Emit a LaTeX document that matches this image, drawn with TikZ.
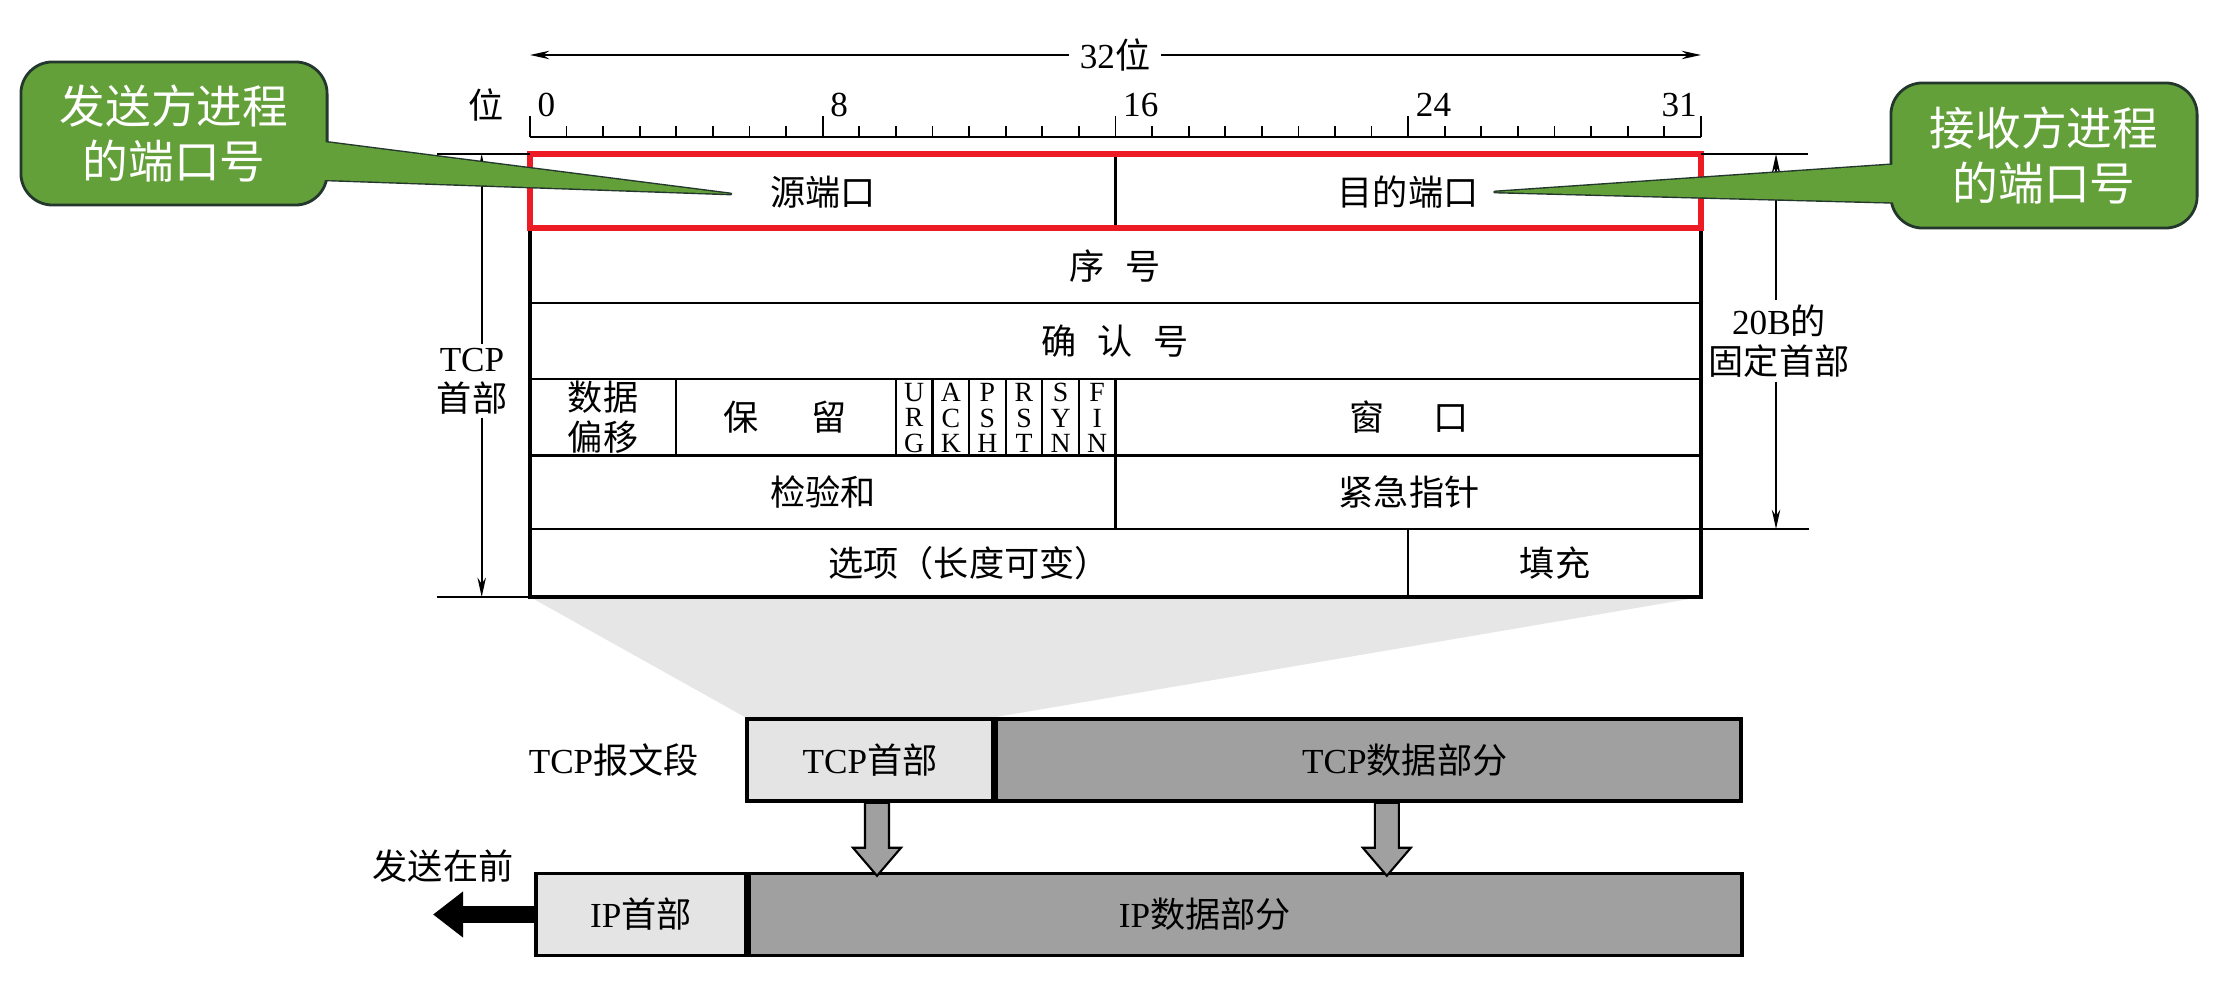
\documentclass[tikz,border=0pt]{standalone}
\usepackage{fontspec}
\setmainfont{Liberation Serif}
\newfontfamily\cjk{Noto Sans CJK SC}
\usetikzlibrary{arrows.meta, positioning, calc, backgrounds}
\definecolor{callGreen}{RGB}{100,160,58}
\definecolor{callEdge}{RGB}{35,55,45}
\definecolor{markRed}{RGB}{237,28,36}
\definecolor{hdrGray}{RGB}{228,228,228}
\definecolor{dataGray}{RGB}{160,160,160}
\definecolor{zoomGray}{RGB}{230,230,230}

\begin{document}
\begin{tikzpicture}[x=0.01cm, y=-0.01cm,
  every node/.style={font=\fontsize{10}{11.5}\selectfont, inner sep=1pt},
  brk/.style={-{Stealth[length=5.5pt,width=2.4pt]}, line width=0.5pt},
  cell/.style={line width=0.6pt},
  flagtxt/.style={align=center, font=\fontsize{7.9}{7.3}\selectfont},
  callbox/.style={fill=callGreen, draw=callEdge, line width=0.8pt, rounded corners=9pt,
    minimum width=3.06cm, align=center, text=white, font=\cjk\fontsize{13}{15.6}\selectfont},
  tail/.style={fill=callGreen, draw=callEdge, line width=0.8pt, line join=round},
  segbox/.style={draw, line width=1pt, minimum height=0.82cm, inner sep=0pt},
  downarr/.style={fill=dataGray, draw, line width=0.6pt}]
  \useasboundingbox (0,0) rectangle (2231,983);

  % ruler
  \draw[line width=0.6pt] (530,137) -- (1701,137);
  \foreach \b in {0,...,32} \draw[line width=0.5pt] (530+\b*36.59,137) -- ++(0,-11);
  \foreach \b in {0,8,...,32} \draw[line width=0.5pt] (530+\b*36.59,137) -- ++(0,-21);
  \foreach \b in {0,8,16,24}
    \node[anchor=base west, inner sep=2pt] (bit\b) at (530+\b*36.59,117) {\b};
  \node[anchor=base east] (bit31) at (1701,117) {31};
  \node (wei) at (486,105) {\cjk 位};
  \node[fill=white, inner sep=3pt] (width) at (1115,55) {32\cjk 位};
  \coordinate (wl) at (530,55);
  \coordinate (wr) at (1701,55);
  \draw[brk] (width) -- (wl);
  \draw[brk] (width) -- (wr);

  % header table
  \draw[line width=0.9pt] (530,154) rectangle (1701,597);
  \foreach \y in {228,303,379,455.5,529} \draw[cell] (530,\y) -- (1701,\y);
  \draw[cell] (1115.5,154) -- (1115.5,228);
  \foreach \b in {4,10,11,12,13,14,15,16} \draw[cell] (530+\b*36.59,379) -- (530+\b*36.59,455.5);
  \draw[cell] (1115.5,455.5) -- (1115.5,529);
  \draw[cell] (1408,529) -- (1408,597);

  \node (src) at (823,192) {\cjk 源端口};
  \node (dst) at (1408,192) {\cjk 目的端口};
  \node (seq) at (1115,266) {\cjk 序\hspace{0.6em}号};
  \node (ack) at (1115,341) {\cjk 确\hspace{0.6em}认\hspace{0.6em}号};
  \node[align=center, font=\cjk\fontsize{10}{11.5}\selectfont] (off) at (603,417) {数据\\偏移};
  \node (rsv) at (785,417) {\cjk 保\hspace{1.5em}留};
  \foreach \b/\t in {10/U\\R\\G, 11/A\\C\\K, 12/P\\S\\H, 13/R\\S\\T, 14/S\\Y\\N, 15/F\\I\\N}
    \node[flagtxt] (flag\b) at (530+\b*36.59+18.3,418) {\t};
  \node (win) at (1409,417) {\cjk 窗\hspace{1.4em}口};
  \node (chk) at (823,492) {\cjk 检验和};
  \node (urg) at (1409,492) {\cjk 紧急指针};
  \node (opt) at (969,563) {\cjk 选项（长度可变）};
  \node (pad) at (1555,563) {\cjk 填充};

  \draw[markRed, line width=1.85pt] (530,154) rectangle (1701,228);

  % left bracket
  \draw[line width=0.5pt] (437,154) -- (530,154);
  \draw[line width=0.5pt] (437,597) -- (530,597);
  \coordinate (ltop) at (481.7,154);
  \coordinate (lbot) at (481.7,597);
  \node[align=center] (tcplbl) at (472,381) {TCP\\{\cjk 首部}};
  \draw[brk] (tcplbl.north -| ltop) -- (ltop);
  \draw[brk] (tcplbl.south -| lbot) -- (lbot);

  % right bracket
  \draw[line width=0.5pt] (1701,154) -- (1808,154);
  \draw[line width=0.5pt] (1701,529) -- (1809,529);
  \coordinate (rtop) at (1776,154);
  \coordinate (rbot) at (1776,529);
  \node[align=center] (fixlbl) at (1779,341) {20B{\cjk 的}\\{\cjk 固定首部}};
  \draw[brk] (fixlbl.north -| rtop) -- (rtop);
  \draw[brk] (fixlbl.south -| rbot) -- (rbot);

  % callouts
  \draw[tail] (300,139) -- ($(src.west)+(-35,2)$) -- (300,179) -- cycle;
  \node[callbox, minimum height=1.43cm] (sendcall) at (174,133.5) {发送方进程\\的端口号};
  \fill[callGreen] (300,139) -- ($(src.west)+(-35,2)$) -- (300,179) -- cycle;
  \draw[tail] (1918,163) -- ($(dst.east)+(12,0)$) -- (1918,203) -- cycle;
  \node[callbox, minimum height=1.45cm] (recvcall) at (2044,155.5) {接收方进程\\的端口号};
  \fill[callGreen] (1918,163) -- ($(dst.east)+(12,0)$) -- (1918,203) -- cycle;

  % segment and datagram
  \node[segbox, fill=hdrGray, minimum width=2.46cm] (tcph) at (870,760) {TCP\cjk 首部};
  \node[segbox, fill=dataGray, minimum width=7.44cm, right=0pt of tcph] (tcpd) {};
  \node (tcpdtxt) at ($(tcpd)+(36,0)$) {TCP\cjk 数据部分};
  \node[left=12pt of tcph] (seglbl) {TCP\cjk 报文段};
  \node[segbox, fill=hdrGray, minimum width=2.10cm] (iph) at (641,914.5) {IP\cjk 首部};
  \node[segbox, fill=dataGray, minimum width=9.92cm, right=0pt of iph] (ipd) {};
  \node (ipdtxt) at ($(ipd)+(-41,0)$) {IP\cjk 数据部分};
  \node (first) at (443,866) {\cjk 发送在前};
  \coordinate (fwd) at (433,914.5);
  \draw[line width=0.17cm, -{Triangle[length=0.3cm,width=0.44cm]}] (iph.west) -- (fwd);

  \begin{scope}[on background layer]
    \fill[zoomGray] (530,597) -- (1701,597) -- (tcph.north east) -- (tcph.north west) -- cycle;
  \end{scope}

  \path (tcph.south) ++(7,0) coordinate (dnA);
  \path (tcpd.south) ++(18,0) coordinate (dnB);
  \foreach \c in {dnA,dnB}
    \draw[downarr] (\c) ++(-12,0) -- ++(0,45) -- ++(-12,0) -- ++(24,28) -- ++(24,-28) -- ++(-12,0) -- ++(0,-45) -- cycle;
\end{tikzpicture}
\end{document}
